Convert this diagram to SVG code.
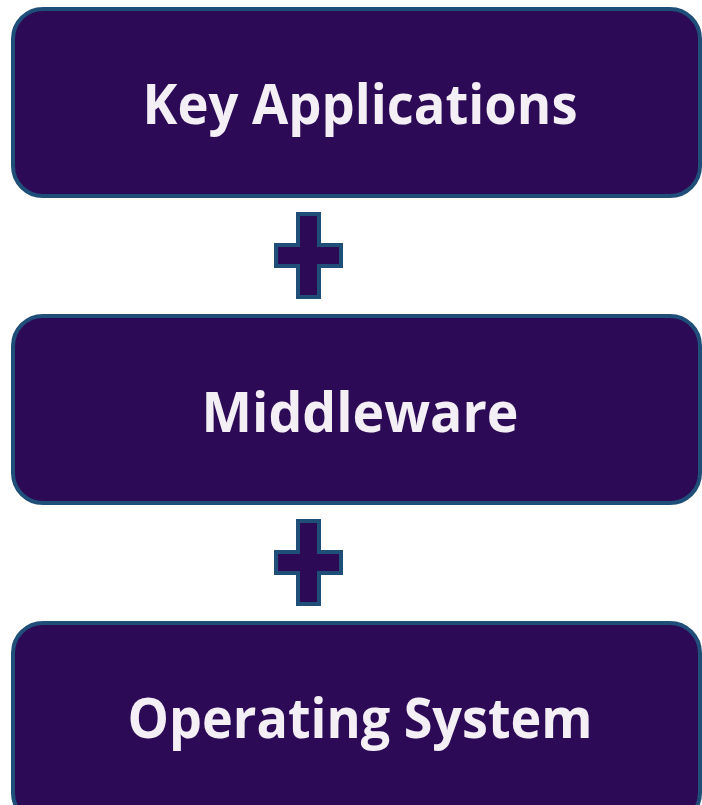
<svg xmlns="http://www.w3.org/2000/svg" width="702" height="805" viewBox="0 0 702 805">
<style>
.box{fill:#2c0a56;stroke:#1f4e79;stroke-width:4}
.plus{fill:#2c0a56;stroke:#1f4e79;stroke-width:4;stroke-linejoin:miter}
.lbl{font-family:"Open Sans","Liberation Sans",sans-serif;font-weight:bold;font-size:56px;fill:#f3eff5;text-anchor:middle}
</style>
<rect width="702" height="805" fill="#ffffff"/>
<g id="key-applications">
<rect class="box" x="13" y="9" width="687" height="187" rx="30"/>
<text class="lbl" x="360" y="124" textLength="435" lengthAdjust="spacingAndGlyphs">Key Applications</text>
</g>
<g id="middleware">
<rect class="box" x="13" y="316" width="687" height="187" rx="30"/>
<text class="lbl" x="360" y="432" textLength="317" lengthAdjust="spacingAndGlyphs">Middleware</text>
</g>
<g id="operating-system">
<rect class="box" x="13" y="623" width="687" height="200" rx="30"/>
<text class="lbl" x="360" y="738" textLength="465" lengthAdjust="spacingAndGlyphs">Operating System</text>
</g>
<g id="connectors">
<path class="plus" d="M298 214H319V245H341V266H319V297H298V266H276V245H298Z"/>
<path class="plus" d="M298 521H319V552H341V573H319V604H298V573H276V552H298Z"/>
</g>
</svg>
